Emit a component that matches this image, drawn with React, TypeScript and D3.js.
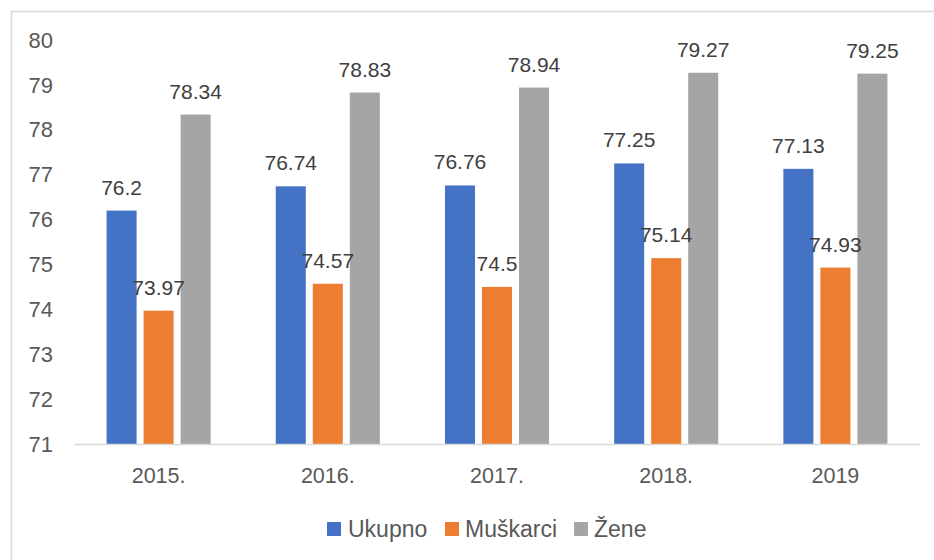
import React from "react";
import * as d3 from "d3";

const years = ["2015.", "2016.", "2017.", "2018.", "2019"];
const seriesNames = ["Ukupno", "Muškarci", "Žene"];
const ukupno = [76.2, 76.74, 76.76, 77.25, 77.13];
const muskarci = [73.97, 74.57, 74.5, 75.14, 74.93];
const zene = [78.34, 78.83, 78.94, 79.27, 79.25];
const yTicks = [71, 72, 73, 74, 75, 76, 77, 78, 79, 80];
const colors = ["#4472C4", "#ED7D31", "#A5A5A5"];

const seriesValues = [ukupno, muskarci, zene];

export default function App() {
  const W = 934;
  const H = 560;
  const x0 = d3.scaleBand<string>().domain(years).range([74, 920]).padding(0);
  const x1 = d3
    .scaleBand<string>()
    .domain(seriesNames)
    .range([0, x0.bandwidth()])
    .paddingInner(0.189)
    .paddingOuter(0.88);
  const y = d3.scaleLinear().domain([71, 80]).range([444, 40]);
  const font = "'Liberation Sans', Arial, sans-serif";

  const legendItems = [
    { name: seriesNames[0], x: 327, tx: 348 },
    { name: seriesNames[1], x: 445, tx: 465 },
    { name: seriesNames[2], x: 574, tx: 594 },
  ];

  return (
    <svg
      width={W}
      height={H}
      style={{ position: "absolute", left: 0, top: 0 }}
      fontFamily={font}
    >
      <rect x={0} y={0} width={W} height={H} fill="#fff" />
      <rect
        x={11.5}
        y={11.5}
        width={W + 20}
        height={H + 20}
        fill="none"
        stroke="#d9d9d9"
        strokeWidth={1.5}
      />
      {yTicks.map((t) => (
        <text
          key={t}
          x={53}
          y={y(t)}
          dy="0.35em"
          textAnchor="end"
          fontSize={22}
          fill="#595959"
        >
          {t}
        </text>
      ))}
      {years.map((yr, i) => (
        <g key={yr} transform={`translate(${x0(yr)},0)`}>
          {seriesNames.map((s, j) => {
            const v = seriesValues[j][i];
            return (
              <rect
                key={s}
                x={x1(s)!}
                y={y(v)}
                width={x1.bandwidth()}
                height={y(71) - y(v)}
                fill={colors[j]}
              />
            );
          })}
          <text
            x={x0.bandwidth() / 2}
            y={475}
            dy="0.35em"
            textAnchor="middle"
            fontSize={21.5}
            fill="#595959"
          >
            {yr}
          </text>
        </g>
      ))}
      <line x1={74} x2={920} y1={444.5} y2={444.5} stroke="#d9d9d9" strokeWidth={1.5} />
      {years.map((yr, i) => (
        <g key={yr} transform={`translate(${x0(yr)},0)`}>
          {seriesNames.map((s, j) => {
            const v = seriesValues[j][i];
            return (
              <text
                key={s}
                x={x1(s)! + x1.bandwidth() / 2}
                y={y(v) - 16}
                textAnchor="middle"
                fontSize={21}
                fill="#404040"
              >
                {v}
              </text>
            );
          })}
        </g>
      ))}
      {legendItems.map((l, j) => (
        <g key={l.name}>
          <rect x={l.x} y={522} width={14} height={14} fill={colors[j]} />
          <text x={l.tx} y={529} dy="0.35em" fontSize={23} fill="#595959">
            {l.name}
          </text>
        </g>
      ))}
    </svg>
  );
}
